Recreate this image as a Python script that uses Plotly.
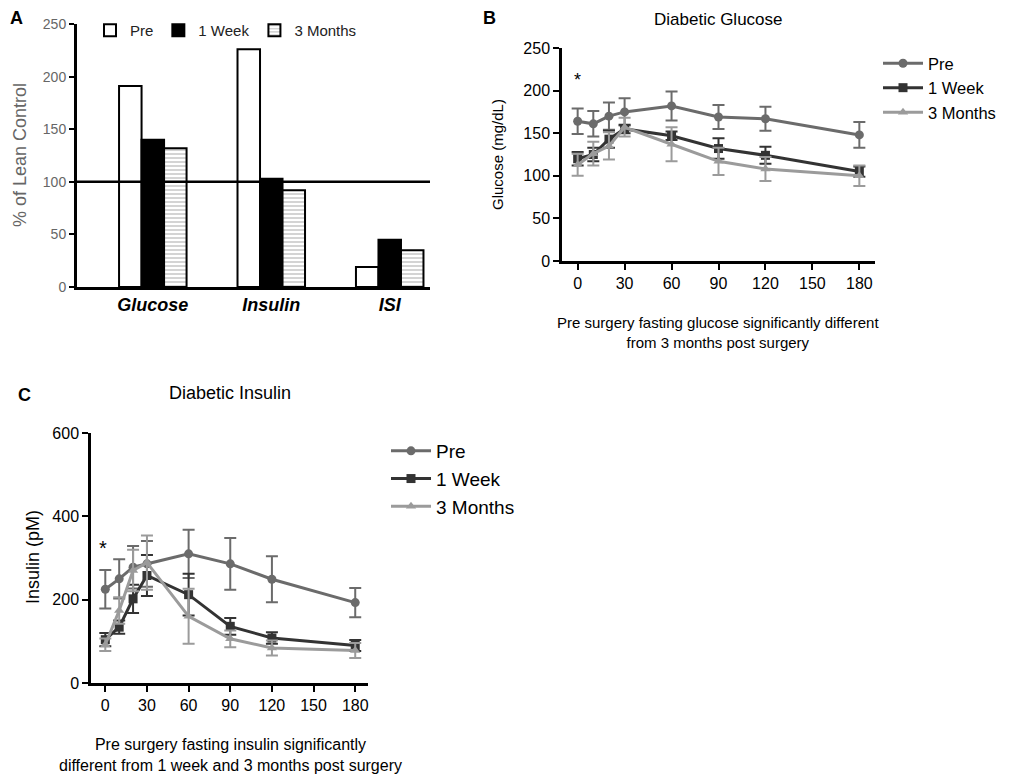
import plotly.graph_objects as go

# ---------------- data ----------------
# Panel A: % of lean control
a_categories = ["Glucose", "Insulin", "ISI"]
a_pre = [191, 226, 19]
a_1wk = [140, 103, 45]
a_3mo = [132, 92, 35]

# Panel B: glucose (mg/dL)
time_min = [0, 10, 20, 30, 60, 90, 120, 180]
glu_pre = [164, 161, 170, 175, 182, 169, 167, 148]
glu_pre_err = [15, 15, 16, 16, 17, 14, 14, 15]
glu_1wk = [120, 125, 143, 155, 147, 132, 124, 105]
glu_1wk_err = [8, 8, 10, 5, 5, 12, 10, 6]
glu_3mo = [113, 126, 135, 157, 137, 117, 108, 100]
glu_3mo_err = [13, 14, 16, 11, 20, 16, 14, 12]

# Panel C: insulin (pM)
ins_pre = [225, 250, 278, 286, 310, 286, 249, 193]
ins_pre_err = [46, 47, 51, 55, 58, 62, 55, 35]
ins_1wk = [104, 134, 202, 258, 212, 136, 108, 90]
ins_1wk_err = [16, 16, 34, 49, 50, 20, 14, 13]
ins_3mo = [92, 174, 270, 289, 160, 106, 84, 78]
ins_3mo_err = [15, 32, 50, 65, 66, 20, 18, 18]

series_names = ["Pre", "1 Week", "3 Months"]
tick_times = [0, 30, 60, 90, 120, 150, 180]

# ---------------- styling ----------------
OFF = 8                      # page body margin
W, H = 1031 - OFF, 780 - OFF
def px(x):
    return (x - OFF) / W
def py(y):
    return 1 - (y - OFF) / H

ARIAL = "Liberation Sans, Arial, sans-serif"
C_PRE, C_1WK, C_3MO = "#6b6b6b", "#333333", "#9b9b9b"

fig = go.Figure()

# ---------------- Panel A ----------------
fig.add_trace(go.Bar(x=a_categories, y=a_pre, name="Pre",
                     marker=dict(color="white", line=dict(color="black", width=2)),
                     xaxis="x", yaxis="y", legend="legend"))
fig.add_trace(go.Bar(x=a_categories, y=a_1wk, name="1 Week",
                     marker=dict(color="black", line=dict(color="black", width=2)),
                     xaxis="x", yaxis="y", legend="legend"))
fig.add_trace(go.Bar(x=a_categories, y=a_3mo, name="3 Months",
                     marker=dict(color="white", line=dict(color="black", width=2),
                                 pattern=dict(shape="-", fgcolor="#a0a0a0", bgcolor="white",
                                              size=4, solidity=0.45)),
                     xaxis="x", yaxis="y", legend="legend"))

# ---------------- Panel B & C ----------------
def add_lines(yvals, errs, xa, ya, leg):
    specs = [(C_PRE, "circle"), (C_1WK, "square"), (C_3MO, "triangle-up")]
    for name, (vals, err), (col, sym) in zip(series_names, zip(yvals, errs), specs):
        fig.add_trace(go.Scatter(
            x=time_min, y=vals, name=name, mode="lines+markers",
            line=dict(color=col, width=3),
            marker=dict(color=col, symbol=sym, size=9),
            error_y=dict(type="data", array=err, visible=True, color=col,
                         thickness=2, width=6),
            xaxis=xa, yaxis=ya, legend=leg))

add_lines([glu_pre, glu_1wk, glu_3mo], [glu_pre_err, glu_1wk_err, glu_3mo_err], "x2", "y2", "legend2")
add_lines([ins_pre, ins_1wk, ins_3mo], [ins_pre_err, ins_1wk_err, ins_3mo_err], "x3", "y3", "legend3")

axis_common = dict(showline=True, linecolor="black", ticks="outside", automargin=False,
                   tickcolor="black", showgrid=False, zeroline=False)

fig.update_layout(
    width=W, height=H,
    margin=dict(l=0, r=0, t=0, b=0, autoexpand=False),
    paper_bgcolor="white", plot_bgcolor="white",
    font=dict(family=ARIAL, color="black"),
    barmode="group", bargap=0.43, bargroupgap=0,
    xaxis=dict(domain=[px(77), px(430)], anchor="y", range=[-0.64, 2.34],
               showline=True, linecolor="black", linewidth=3, ticks="", automargin=False,
               showgrid=False, zeroline=False, ticklabelstandoff=-1,
               tickfont=dict(family=ARIAL, size=18, color="black", weight="bold", style="italic")),
    yaxis=dict(domain=[py(287), py(24)], anchor="x", range=[0, 250],
               tickvals=[0, 50, 100, 150, 200, 250], linewidth=3, ticklen=5, tickwidth=2,
               tickfont=dict(family=ARIAL, size=14, color="#666666"),
               **axis_common),
    xaxis2=dict(domain=[px(562), px(875)], anchor="y2", range=[-10, 190],
                tickvals=tick_times, linewidth=2.5, ticklen=6, tickwidth=2,
                tickfont=dict(size=16), **axis_common),
    yaxis2=dict(domain=[py(261), py(48)], anchor="x2", range=[0, 250],
                tickvals=[0, 50, 100, 150, 200, 250], linewidth=2.5, ticklen=6, tickwidth=2,
                tickfont=dict(size=16), **axis_common),
    xaxis3=dict(domain=[px(91), px(368)], anchor="y3", range=[-10.3, 189.2],
                tickvals=tick_times, linewidth=2.5, ticklen=6, tickwidth=2,
                tickfont=dict(size=16), **axis_common),
    yaxis3=dict(domain=[py(683), py(433)], anchor="x3", range=[0, 600],
                tickvals=[0, 200, 400, 600], linewidth=2.5, ticklen=6, tickwidth=2,
                tickfont=dict(size=16), **axis_common),
    legend=dict(orientation="h", x=px(90), y=py(14), xanchor="left", yanchor="top",
                font=dict(family=ARIAL, size=15, color="#222222"),
                bgcolor="rgba(0,0,0,0)", traceorder="normal"),
    legend2=dict(x=px(878), y=py(46), xanchor="left", yanchor="top",
                 font=dict(size=16.5), bgcolor="rgba(0,0,0,0)", itemwidth=40),
    legend3=dict(x=px(386), y=py(432), xanchor="left", yanchor="top",
                 font=dict(size=19), bgcolor="rgba(0,0,0,0)", itemwidth=40),
    showlegend=True,
)

# 100% reference line in panel A
fig.add_shape(type="line", xref="x domain", yref="y", x0=0, x1=1, y0=100, y1=100,
              line=dict(color="black", width=2.5), layer="above")

annotations = [
    # panel letters
    dict(text="<b>A</b>", x=px(16), y=py(18), size=18),
    dict(text="<b>B</b>", x=px(489), y=py(18), size=18),
    dict(text="<b>C</b>", x=px(24), y=py(395), size=18),
    # titles
    dict(text="Diabetic Glucose", x=px(718), y=py(19), size=17),
    dict(text="Diabetic Insulin", x=px(230), y=py(393), size=18),
    # axis titles
    dict(text="% of Lean Control", x=px(20), y=py(155), size=18, angle=-90, color="#666666"),
    dict(text="Glucose (mg/dL)", x=px(497), y=py(155), size=15, angle=-90),
    dict(text="Insulin (pM)", x=px(33), y=py(557), size=18, angle=-90),
    dict(text="Pre surgery fasting glucose significantly different<br>from 3 months post surgery",
         x=px(718), y=py(333), size=15),
    dict(text="Pre surgery fasting insulin significantly<br>different from 1 week and 3 months post surgery",
         x=px(230), y=py(755), size=16),
]
for a in annotations:
    fig.add_annotation(text=a["text"], x=a["x"], y=a["y"], xref="paper", yref="paper",
                       showarrow=False, textangle=a.get("angle", 0),
                       font=dict(size=a["size"], family=ARIAL, color=a.get("color", "black")),
                       xanchor="center", yanchor="middle")

# significance asterisks
fig.add_annotation(text="*", x=0, y=212, xref="x2", yref="y2", showarrow=False,
                   font=dict(size=18, family=ARIAL))
fig.add_annotation(text="*", x=-2, y=325, xref="x3", yref="y3", showarrow=False,
                   font=dict(size=20, family=ARIAL))

fig.write_html("out.html")
